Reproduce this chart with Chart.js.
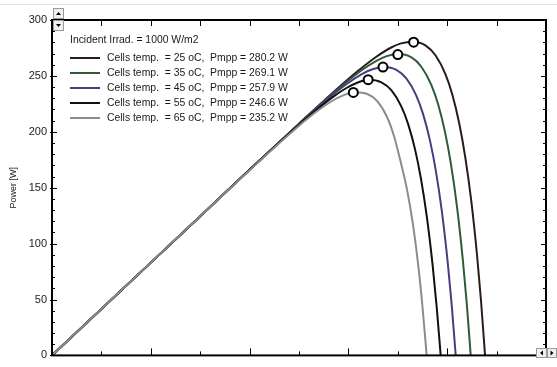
<!DOCTYPE html>
<html>
<head>
<meta charset="utf-8">
<script src="https://cdn.jsdelivr.net/npm/chart.js@4"></script>
<style>
  html, body { margin: 0; padding: 0; background: #fff; overflow: hidden; }
  canvas { display: block; }
</style>
</head>
<body>
<canvas id="pvChart" width="557" height="367"></canvas>
<script>
// P-V curves of a PV module at 1000 W/m2 for several cell temperatures
var temps = [25, 35, 45, 55, 65];
var lineColors = ['#2a1b1b', '#2f5a3c', '#4b3c7c', '#111111', '#8c8c8c'];

var volts25 = [0, 5, 10, 15, 20, 25, 27.5, 30.83, 32.83, 34.33, 35.33, 36.53, 37.83, 38.83, 39.83, 40.53, 41.23, 41.83, 42.43, 43.03, 43.43, 43.83];
var power25 = [0, 41.5, 83, 124.5, 166, 207.3, 227.6, 253.4, 267.1, 275.4, 279.1, 280.6, 277.1, 268.2, 251.3, 232.9, 207.0, 177.2, 138.6, 88.7, 48.0, 0];

var volts35 = [0, 5, 10, 15, 20, 25, 27.5, 29.38, 31.38, 32.88, 33.88, 35.08, 36.38, 37.38, 38.38, 39.08, 39.78, 40.38, 40.98, 41.58, 41.98, 42.38];
var power35 = [0, 41.5, 83, 124.5, 166, 207.1, 227.1, 241.5, 255.3, 263.7, 267.7, 269.5, 266.5, 258.2, 242.2, 224.6, 199.7, 171.1, 133.8, 85.7, 46.4, 0];

var volts45 = [0, 5, 10, 15, 20, 25, 27.86, 29.86, 31.36, 32.36, 33.56, 34.86, 35.86, 36.86, 37.56, 38.26, 38.86, 39.46, 40.06, 40.46, 40.86];
var power45 = [0, 41.5, 83, 124.5, 166, 206.8, 229.0, 243.0, 251.5, 255.7, 258.0, 255.4, 247.7, 232.6, 215.8, 192.1, 164.6, 128.9, 82.6, 44.7, 0];

var volts55 = [0, 5, 10, 15, 20, 25, 26.34, 28.34, 29.84, 30.84, 32.04, 33.34, 34.34, 35.34, 36.04, 36.74, 37.34, 37.94, 38.54, 38.94, 39.34];
var power55 = [0, 41.5, 83, 124.5, 166, 206.3, 216.5, 230.6, 239.4, 243.7, 246.5, 244.2, 237.2, 223.0, 207.1, 184.5, 158.2, 123.9, 79.5, 43.0, 0];

var volts65 = [0, 5, 10, 15, 20, 24.92, 26.92, 28.42, 29.42, 30.62, 31.92, 32.92, 33.92, 34.62, 35.32, 35.92, 36.52, 37.12, 37.52, 37.92];
var power65 = [0, 41.5, 83, 124.5, 165.7, 204.8, 219.0, 228.0, 232.4, 235.3, 233.8, 227.4, 213.0, 196.0, 172.0, 149.0, 118.0, 76.5, 41.5, 0];

// maximum power points
var mppVolts = [36.6, 35.0, 33.5, 32.0, 30.5];
var mppPower = [280.2, 269.1, 257.9, 246.6, 235.2];

var voltSets = [volts25, volts35, volts45, volts55, volts65];
var powerSets = [power25, power35, power45, power55, power65];

function toPoints(xs, ys) {
    return xs.map(function (x, i) { return { x: x, y: ys[i] }; });
}

var FONT = '"Liberation Sans", Arial, sans-serif';

// markers first so they sit on top, then curves (65 oC on top of the others)
var datasets = [{
    label: 'MPP',
    data: toPoints(mppVolts, mppPower),
    showLine: false,
    pointRadius: 4.5,
    pointBorderWidth: 2,
    pointBackgroundColor: '#ffffff',
    pointBorderColor: '#000000'
}];
for (var i = temps.length - 1; i >= 0; i--) {
    datasets.push({
        label: 'Cells temp.  = ' + temps[i] + ' oC,  Pmpp = ' + mppPower[i].toFixed(1) + ' W',
        data: toPoints(voltSets[i], powerSets[i]),
        borderColor: lineColors[i],
        borderWidth: 2,
        pointRadius: 0,
        fill: false,
        cubicInterpolationMode: 'monotone'
    });
}

// frame, inward ticks, legend box and the little scroll buttons
var decorPlugin = {
    id: 'decor',
    afterDatasetsDraw: function (chart) {
        var ctx = chart.ctx;
        var a = chart.chartArea;
        var xs = chart.scales.x, ys = chart.scales.y;
        ctx.save();

        // faint window line on top
        ctx.strokeStyle = '#e4e4e4';
        ctx.lineWidth = 1;
        ctx.beginPath(); ctx.moveTo(0, 4.5); ctx.lineTo(557, 4.5); ctx.stroke();

        ctx.strokeStyle = '#000';
        ctx.lineWidth = 1;
        ctx.beginPath();
        for (var v = 0; v <= 300; v += 10) {
            var py = Math.round(ys.getPixelForValue(v)) + 0.5;
            var major = v % 50 === 0;
            ctx.moveTo(a.left - (major ? 2 : 0), py); ctx.lineTo(a.left + (major ? 5 : 3), py);
            ctx.moveTo(a.right - (major ? 5 : 3), py); ctx.lineTo(a.right + 1, py);
        }
        for (var u = 0; u <= 50; u += 5) {
            var px = Math.round(xs.getPixelForValue(u)) + 0.5;
            var maj = u % 10 === 0;
            ctx.moveTo(px, a.bottom); ctx.lineTo(px, a.bottom - (maj ? 7 : 4));
            ctx.moveTo(px, a.top); ctx.lineTo(px, a.top + 6);
        }
        ctx.stroke();

        ctx.lineWidth = 2;
        ctx.strokeRect(a.left, a.top, a.right - a.left, a.bottom - a.top);

        // legend
        ctx.fillStyle = '#1a1a1a';
        ctx.font = '10.4px ' + FONT;
        ctx.textBaseline = 'middle';
        ctx.textAlign = 'left';
        ctx.fillText('Incident Irrad. = 1000 W/m2', 70, 40);
        for (var k = 0; k < temps.length; k++) {
            var ly = 58 + k * 15;
            ctx.strokeStyle = lineColors[k];
            ctx.lineWidth = 2;
            ctx.beginPath(); ctx.moveTo(70, ly); ctx.lineTo(100, ly); ctx.stroke();
            ctx.fillStyle = '#1a1a1a';
            ctx.fillText('Cells temp.  = ' + temps[k] + ' oC,  Pmpp = ' + mppPower[k].toFixed(1) + ' W', 107, ly);
        }

        // scroll buttons
        function button(x, y, w, h, dir) {
            ctx.fillStyle = '#f0f0f0';
            ctx.fillRect(x, y, w, h);
            ctx.strokeStyle = '#9a9a9a';
            ctx.lineWidth = 1;
            ctx.strokeRect(x + 0.5, y + 0.5, w - 1, h - 1);
            ctx.fillStyle = '#000';
            var cx = x + w / 2, cy = y + h / 2;
            ctx.beginPath();
            if (dir === 'up') { ctx.moveTo(cx - 2.5, cy + 1.5); ctx.lineTo(cx + 2.5, cy + 1.5); ctx.lineTo(cx, cy - 1.5); }
            if (dir === 'down') { ctx.moveTo(cx - 2.5, cy - 1.5); ctx.lineTo(cx + 2.5, cy - 1.5); ctx.lineTo(cx, cy + 1.5); }
            if (dir === 'left') { ctx.moveTo(cx + 1.5, cy - 2.5); ctx.lineTo(cx + 1.5, cy + 2.5); ctx.lineTo(cx - 1.5, cy); }
            if (dir === 'right') { ctx.moveTo(cx - 1.5, cy - 2.5); ctx.lineTo(cx - 1.5, cy + 2.5); ctx.lineTo(cx + 1.5, cy); }
            ctx.closePath();
            ctx.fill();
        }
        button(53, 8, 11, 11, 'up');
        button(53, 20, 11, 11, 'down');
        button(536, 348, 11, 10, 'left');
        button(547, 348, 10, 10, 'right');

        ctx.restore();
    }
};

var ctx = document.getElementById('pvChart').getContext('2d');
var pvChart = new Chart(ctx, {
    type: 'line',
    data: { datasets: datasets },
    options: {
        responsive: false,
        animation: false,
        devicePixelRatio: 1,
        layout: { padding: { top: 20, right: 11, left: 0, bottom: 0 } },
        plugins: { legend: { display: false }, tooltip: { enabled: false } },
        scales: {
            x: {
                type: 'linear',
                min: 0,
                max: 50,
                ticks: { display: false, stepSize: 10 },
                grid: { display: false },
                border: { display: false },
                afterFit: function (scale) { scale.height = 5; }
            },
            y: {
                min: 0,
                max: 300,
                ticks: { stepSize: 50, padding: 5, color: '#222', font: { family: FONT, size: 11 } },
                grid: { display: false, drawTicks: false },
                border: { display: false },
                title: {
                    display: true,
                    text: 'Power [W]',
                    color: '#222',
                    font: { family: FONT, size: 9 },
                    padding: { top: 8, bottom: 0 }
                },
                afterFit: function (scale) { scale.width = 52; }
            }
        }
    },
    plugins: [decorPlugin]
});
</script>
</body>
</html>
